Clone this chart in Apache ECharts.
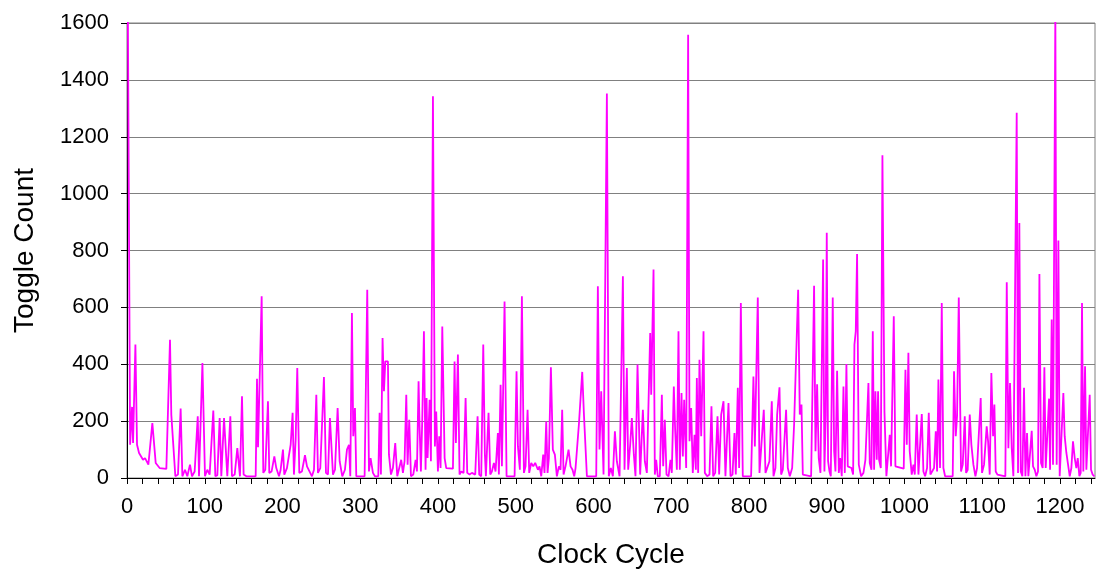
<!DOCTYPE html>
<html>
<head>
<meta charset="utf-8">
<script src="https://cdn.jsdelivr.net/npm/echarts@6/dist/echarts.min.js"></script>
<style>html,body{margin:0;padding:0;background:#fff}#c{width:1104px;height:574px}</style>
</head>
<body>
<div id="c"></div>
<script>
var cycles = [1,4,6.5,7.8,10.8,12.9,15.5,18,20.6,23.2,27.5,32.6,36.9,39,42,50.6,52.8,55.3,57,58.8,62.2,65.6,69,71.2,74.6,77.6,81,83.6,87,91,92.6,97,100.3,103.3,106.3,111,113.6,116.2,119.2,121.3,124.8,129,132.9,135,138.5,141.9,143.6,145.3,147.9,150,153.5,165.5,167.2,168.5,169.7,173.2,175.3,177.9,181.3,183,186,189.5,192,195.5,197.6,200.6,202.3,205.7,207.9,210.5,213,214.7,216.9,219,221.6,225,228.9,231.5,234,237.9,240.5,243.5,245.6,248.6,250.3,253.3,255.9,258.5,261,264.9,267.5,270.9,273.5,276.9,280.3,282.9,285.5,287.2,289.3,291,293.2,294.9,305.6,309,311.2,313.3,316.3,318.9,323.2,324.9,326.6,328.7,330.5,332.2,335.6,336.9,339.5,342,345,347.6,349.7,352.7,354.9,357,359.2,360.9,363,365.2,368.2,371.2,372.9,375,376.3,378,379.7,381.9,384,385.3,386.6,389.2,390.9,393.5,396,397.7,399.9,401.6,403.3,405.5,408.5,410.6,419.2,421.3,423,425.6,427.7,429.9,432.9,435.5,437.6,440.6,443.6,445.3,447.9,450.9,453,455.6,458.2,460.3,461.6,465,467.2,469.3,471.9,474,477,478.3,480.5,482.2,485.6,488.2,498.5,501,502.8,505.3,507.9,510.5,512.6,515.2,517.3,519.9,522.5,525,528.5,530.6,532.8,535.3,537,539.2,540.9,542.6,545.2,547.7,550.3,552.9,555.5,557.6,559.7,561.5,564,565.7,567.9,570.5,573,575.2,576.9,579,581.2,582.9,585.5,587.6,589.7,591.5,603.5,605.6,607.7,609.9,612.9,617.2,619.7,622.3,624.9,627.5,630,633.5,635.6,637.8,639.9,642.9,644.6,647.2,649.3,651.9,654,656.6,658.3,660,663.5,666,668.6,672.9,674.2,677.2,678.9,680.6,682.7,685.3,687.9,689.6,691.7,693.9,696.5,699,700.7,703.3,705,707.2,709.3,711,713.2,714.9,716.6,719.2,721.7,723.5,725.6,727.7,729.9,731.6,732.9,734.6,736.3,738.5,741.5,743.2,746.2,749.2,751.7,753.9,756.5,759.5,761.6,764.2,767.2,769.7,773.6,776.2,778.8,781.3,783,785.6,787.3,789.5,792,802.7,805.7,807.5,811.3,813.5,816,819,821.2,823.7,826.3,829.3,831.5,834,836.2,839.2,841.3,843.5,845.2,847.7,849.9,852.5,855.5,858,859.7,863.2,865.3,867.5,869.2,871.7,879.9,883.7,885.5,887.6,889.7,891.9,893.6,895.3,897,898.7,900,901.7,903.5,905.2,907.7,909.5,911.2,913.3,915.5,917.2,919.3,921.5,923.2,925.3,927,929.2,931.8,933.9,935.6,937.3,939,941.2,944.2,947.2,949.7,951.5,953.6,955.3,957.5,959.2,960.9,962.6,964.3,966,967.3,969.5,971.6,974.2,976.7,978.5,981,982.7,984,986.2,988.3,990.5,999,1001.2,1002.9,1005,1006.7,1009.3,1011.5,1013.2,1015.7,1017.9,1020,1022.2,1024.3,1026.5,1029,1031.2,1033.3,1035.5,1038,1040.2,1041.9,1043.6,1045.7,1047.9,1050,1052.2,1062,1063.7,1065.9,1067.6,1069.8,1072.7,1074.9,1077.5,1079.2,1081.3,1083.9,1086,1088.6,1091.2,1093.3,1095.5,1098,1099.7,1102.3,1104,1105.7,1107.5,1109.6,1111.7,1113.9,1115.6,1117.3,1119.5,1121.2,1129.7,1131.5,1133.6,1135.7,1137.9,1140,1142.2,1144.3,1146,1147.7,1149.5,1151.6,1153.7,1155.5,1157.6,1159.3,1161.5,1163.6,1165.3,1167.5,1169.6,1171.7,1173.5,1175.6,1177.7,1179.9,1181.6,1183.8,1185.9,1187.2,1189.3,1191,1192.7,1194,1195.7,1197.9,1199.6,1201.7,1204.3,1206,1208.2,1210.3,1212.5,1214.6,1216.7,1218.9,1221,1222.8,1224.9,1226.6,1228.3,1230,1232.2,1233.9,1235.6,1238.2,1239.9,1242,1244.2];
var toggles = [1700,117,250,123,469,117,88,82,64,70,47,193,53,47,35,32,35,486,222,216,6,12,244,6,29,6,47,6,23,217,6,404,6,29,12,237,6,10,211,6,211,6,217,6,12,105,105,6,287,12,6,6,349,108,108,639,18,29,270,18,23,76,35,6,29,100,12,35,35,117,229,12,135,387,18,23,80,41,35,6,29,293,18,35,29,355,18,12,211,12,29,246,59,6,29,100,117,6,580,147,246,6,6,662,23,70,18,6,6,229,12,492,305,410,410,82,12,35,123,6,12,64,18,59,293,47,205,6,12,64,23,340,182,23,200,516,29,281,70,275,59,1342,111,234,23,147,35,533,70,35,33,410,123,434,12,23,18,281,18,12,18,23,12,217,12,6,469,82,6,229,12,23,53,23,158,12,328,41,621,6,6,375,111,29,639,18,41,240,18,53,41,53,29,41,6,82,18,199,18,70,389,100,82,6,41,29,240,12,41,35,100,41,29,6,35,29,188,188,373,229,229,6,6,674,100,305,12,1352,6,35,6,164,59,6,6,709,29,387,29,117,211,82,6,399,399,12,240,59,18,510,293,733,12,64,6,6,293,41,205,12,6,64,18,322,170,29,516,29,299,76,275,35,1559,129,246,18,152,29,352,18,416,147,516,18,6,12,252,6,18,217,12,223,270,6,264,6,12,158,12,317,35,615,6,6,357,111,635,18,23,240,18,18,59,270,6,35,223,319,12,29,29,240,35,6,35,188,188,662,223,258,12,6,6,676,94,330,70,18,12,768,23,220,862,59,23,6,635,94,23,377,18,70,6,322,18,401,41,41,35,12,469,516,788,47,6,18,64,64,334,53,29,516,29,305,64,305,64,35,1135,234,6,6,152,41,41,569,41,35,33,381,117,440,94,12,47,12,223,12,12,225,23,6,35,229,12,6,35,164,23,346,35,615,35,6,6,375,147,217,635,23,47,217,18,29,223,117,47,6,35,41,281,18,47,47,182,129,12,369,147,258,23,12,6,6,688,105,334,105,6,12,1284,18,897,23,6,317,6,158,6,12,166,41,29,6,23,717,53,35,389,35,35,279,29,557,47,47,1650,47,835,6,6,299,147,88,88,6,35,129,70,35,70,6,18,615,23,393,29,135,293,29,12,6];
var yTicks = [0,200,400,600,800,1000,1200,1400,1600];
var xLabelStep = 100;

var data = cycles.map(function(c, i){ return [c, toggles[i]]; });
var chart = echarts.init(document.getElementById('c'), null, {renderer:'canvas'});
var font = 'Liberation Sans, Arial, sans-serif';
chart.setOption({
  animation: false,
  grid: {left:127, right:9, top:23, bottom:94, show:true, borderColor:'#808080', borderWidth:1},
  xAxis: {
    type:'value', min:0, max:1245, interval:20,
    name:'Clock Cycle', nameLocation:'middle', nameGap:63,
    nameTextStyle:{fontFamily:font, fontSize:28, color:'#000'},
    axisLine:{onZero:false, lineStyle:{color:'#000', width:1}},
    axisTick:{show:true, inside:false, length:6, lineStyle:{color:'#000'}},
    axisLabel:{margin:18, fontFamily:font, fontSize:22, color:'#000', showMaxLabel:false,
      formatter:function(v){ return (v % xLabelStep === 0) ? String(v) : ''; }},
    splitLine:{show:false}
  },
  yAxis: {
    type:'value', min:yTicks[0], max:yTicks[yTicks.length-1], interval:200,
    name:'Toggle Count', nameLocation:'middle', nameGap:88,
    nameTextStyle:{fontFamily:font, fontSize:28, color:'#000'},
    axisLine:{show:true, lineStyle:{color:'#000', width:1}},
    axisTick:{show:true, inside:false, length:6, lineStyle:{color:'#000'}},
    axisLabel:{margin:18, fontFamily:font, fontSize:22, color:'#000',
      formatter:function(v){ return String(v); }},
    splitLine:{show:true, lineStyle:{color:'#808080', width:1}}
  },
  series: [{
    type:'line', data:data, showSymbol:false, symbol:'none', clip:true,
    lineStyle:{color:'#FF00FF', width:1.8}, itemStyle:{color:'#FF00FF'}
  }]
});
</script>
</body>
</html>
